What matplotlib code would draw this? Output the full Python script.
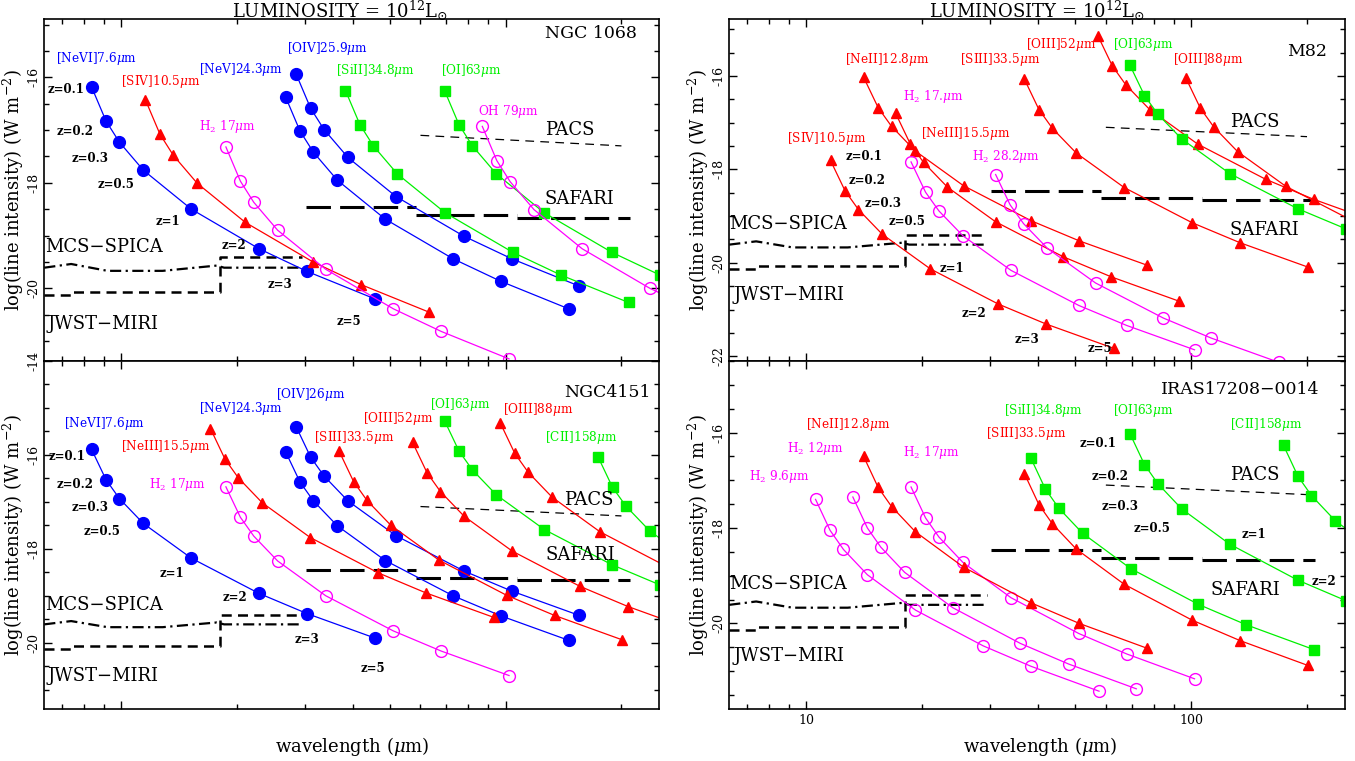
import matplotlib
matplotlib.use('Agg')
import matplotlib.pyplot as plt
from matplotlib.ticker import MultipleLocator, FixedLocator, NullFormatter, FuncFormatter

plt.rcParams['font.family'] = 'DejaVu Serif'
plt.rcParams['mathtext.fontset'] = 'dejavuserif'
plt.rcParams['axes.unicode_minus'] = False

# observed wavelengths (micron) of each line at z = 0.1, 0.2, 0.3, 0.5, 1, 2, 3, 5
x_nevi76 = [8.36, 9.12, 9.88, 11.4, 15.2, 22.8, 30.4, 45.6]
x_siv105 = [11.55, 12.6, 13.65, 15.75, 21.0, 31.5, 42.0, 63.0]
x_neii128 = [14.08, 15.36, 16.64, 19.2, 25.6, 38.4, 51.2, 76.8]
x_neiii155 = [17.05, 18.6, 20.15, 23.25, 31.0, 46.5, 62.0, 93.0]
x_h2_96 = [10.56, 11.52, 12.48, 14.4, 19.2, 28.8, 38.4, 57.6]
x_h2_12 = [13.2, 14.4, 15.6, 18.0, 24.0, 36.0, 48.0, 72.0]
x_h2_17 = [18.7, 20.4, 22.1, 25.5, 34.0, 51.0, 68.0, 102.0]
x_nev243 = [26.73, 29.16, 31.59, 36.45, 48.6, 72.9, 97.2, 145.8]
x_oiv259 = [28.49, 31.08, 33.67, 38.85, 51.8, 77.7, 103.6, 155.4]
x_h2_282 = [31.02, 33.84, 36.66, 42.3, 56.4, 84.6, 112.8, 169.2]
x_siii335 = [36.85, 40.2, 43.55, 50.25, 67.0, 100.5, 134.0, 201.0]
x_sii348 = [38.28, 41.76, 45.24, 52.2, 69.6, 104.4, 139.2, 208.8]
x_oiii52 = [57.2, 62.4, 67.6, 78.0, 104.0, 156.0, 208.0, 312.0]
x_oi63 = [69.3, 75.6, 81.9, 94.5, 126.0, 189.0, 252.0]
x_oh79 = [86.9, 94.8, 102.7, 118.5, 158.0, 237.0, 316.0]
x_oiii88 = [96.8, 105.6, 114.4, 132.0, 176.0, 264.0]
x_cii158 = [173.8, 189.6, 205.4, 237.0, 316.0]

# NGC 1068
n1068_nevi = [-16.18, -16.83, -17.23, -17.76, -18.50, -19.25, -19.68, -20.20]
n1068_siv = [-16.43, -17.08, -17.48, -18.01, -18.75, -19.50, -19.93, -20.45]
n1068_nev = [-16.37, -17.02, -17.42, -17.95, -18.69, -19.44, -19.87, -20.39]
n1068_oiv = [-15.94, -16.59, -16.99, -17.52, -18.26, -19.01, -19.44, -19.96]
n1068_sii = [-16.25, -16.90, -17.30, -17.83, -18.57, -19.32, -19.75, -20.27]
n1068_oi = [-16.25, -16.90, -17.30, -17.83, -18.57, -19.32, -19.75]
n1068_h2_17 = [-17.32, -17.97, -18.37, -18.90, -19.64, -20.39, -20.82, -21.34]
n1068_oh = [-16.93, -17.58, -17.98, -18.51, -19.25, -20.00, -20.43]

# NGC 4151
n4151_nevi = [-15.88, -16.53, -16.93, -17.46, -18.20, -18.95, -19.38, -19.90]
n4151_nev = [-15.93, -16.58, -16.98, -17.51, -18.25, -19.00, -19.43, -19.95]
n4151_oiv = [-15.40, -16.05, -16.45, -16.98, -17.72, -18.47, -18.90, -19.42]
n4151_neiii = [-15.44, -16.09, -16.49, -17.02, -17.76, -18.51, -18.94, -19.46]
n4151_siii = [-15.92, -16.57, -16.97, -17.50, -18.24, -18.99, -19.42, -19.94]
n4151_oiii52 = [-15.73, -16.38, -16.78, -17.31, -18.05, -18.80, -19.23, -19.75]
n4151_oiii88 = [-15.32, -15.97, -16.37, -16.90, -17.64, -18.39]
n4151_oi = [-15.27, -15.92, -16.32, -16.85, -17.59, -18.34, -18.77]
n4151_cii = [-16.04, -16.69, -17.09, -17.62, -18.36]
n4151_h2_17 = [-16.68, -17.33, -17.73, -18.26, -19.00, -19.75, -20.18, -20.70]

# M82
m82_neii = [-16.03, -16.68, -17.08, -17.61, -18.35, -19.10, -19.53, -20.05]
m82_neiii = [-16.80, -17.45, -17.85, -18.38, -19.12, -19.87, -20.30, -20.82]
m82_siv = [-17.81, -18.46, -18.86, -19.39, -20.13, -20.88, -21.31, -21.83]
m82_siii = [-16.07, -16.72, -17.12, -17.65, -18.39, -19.14, -19.57, -20.09]
m82_oiii52 = [-15.14, -15.79, -16.19, -16.72, -17.46, -18.21, -18.64, -19.16]
m82_oiii88 = [-16.04, -16.69, -17.09, -17.62, -18.36, -19.11]
m82_oi = [-15.77, -16.42, -16.82, -17.35, -18.09, -18.84, -19.27]
m82_h2_17 = [-17.84, -18.49, -18.89, -19.42, -20.16, -20.91, -21.34, -21.86]
m82_h2_28 = [-18.11, -18.76, -19.16, -19.69, -20.43, -21.18, -21.61, -22.13]

# IRAS17208-0014
iras_h2_96 = [-17.40, -18.05, -18.45, -18.98, -19.72, -20.47, -20.90, -21.42]
iras_h2_12 = [-17.35, -18.00, -18.40, -18.93, -19.67, -20.42, -20.85, -21.37]
iras_h2_17 = [-17.14, -17.79, -18.19, -18.72, -19.46, -20.21, -20.64, -21.16]
iras_neii = [-16.50, -17.15, -17.55, -18.08, -18.82, -19.57, -20.00, -20.52]
iras_siii = [-16.86, -17.51, -17.91, -18.44, -19.18, -19.93, -20.36, -20.88]
iras_sii = [-16.53, -17.18, -17.58, -18.11, -18.85, -19.60, -20.03, -20.55]
iras_oi = [-16.02, -16.67, -17.07, -17.60, -18.34, -19.09, -19.52]
iras_cii = [-16.27, -16.92, -17.32, -17.85, -18.59]

# instrument sensitivities
pacs_x = [60.0, 200.0]
pacs_y = [-17.10, -17.30]
safari_lo = [30.2, 58.3, 106.7]
safari_hi = [58.3, 106.7, 210.0]
safari_y = [-18.46, -18.62, -18.66]
jwst_x = [6.3, 7.5, 7.5, 18.0, 18.0, 29.5]
jwst_y = [-20.13, -20.13, -20.07, -20.07, -19.40, -19.40]
mcs_x = [6.3, 7.4, 9.2, 12.8, 17.7, 18.5, 29.5]
mcs_y = [-19.61, -19.54, -19.67, -19.67, -19.57, -19.61, -19.61]

BLUE = '#0000ff'
RED = '#ff0000'
GREEN = '#00f000'
MAG = '#ff00ff'

style = {
    'b': dict(color=BLUE, marker='o', ms=8.5, mfc=BLUE, mec=BLUE),
    'r': dict(color=RED, marker='^', ms=7.5, mfc=RED, mec=RED),
    'g': dict(color=GREEN, marker='s', ms=6.5, mfc=GREEN, mec=GREEN),
    'm': dict(color=MAG, marker='o', ms=8.5, mfc='none', mec=MAG, mew=1.0),
}
tcol = {'b': BLUE, 'r': RED, 'g': GREEN, 'm': MAG}

fig = plt.figure(figsize=(13.55, 7.61), dpi=100)
ax_tl = fig.add_axes([0.0327, 0.5256, 0.4539, 0.4490])
ax_bl = fig.add_axes([0.0327, 0.0679, 0.4539, 0.4577])
ax_tr = fig.add_axes([0.5382, 0.5256, 0.4544, 0.4490])
ax_br = fig.add_axes([0.5382, 0.0679, 0.4544, 0.4577])


def setup(ax, ylim, xlabels=False):
    ax.set_xscale('log')
    ax.set_xlim(6.3, 251)
    ax.set_ylim(*ylim)
    ax.xaxis.set_major_locator(FixedLocator([10, 100]))
    ax.xaxis.set_minor_locator(FixedLocator([7, 8, 9, 20, 30, 40, 50, 60, 70, 80, 90, 200]))
    ax.xaxis.set_minor_formatter(NullFormatter())
    if xlabels:
        ax.xaxis.set_major_formatter(FuncFormatter(lambda v, p: '%g' % v))
    else:
        ax.xaxis.set_major_formatter(NullFormatter())
    ax.yaxis.set_major_locator(MultipleLocator(2))
    ax.yaxis.set_minor_locator(MultipleLocator(0.5))
    ax.yaxis.set_major_formatter(FuncFormatter(lambda v, p: '%d' % round(v)))
    ax.tick_params(which='both', direction='in', top=True, right=True, width=1.0, labelsize=9)
    ax.tick_params(which='major', length=5.5)
    ax.tick_params(which='minor', length=3.5)
    ax.tick_params(axis='y', labelrotation=90, pad=3)
    for t in ax.get_yticklabels():
        t.set_va('center')
    for s in ax.spines.values():
        s.set_linewidth(1.2)
    ax.set_ylabel(r'log(line intensity) (W m$^{-2}$)', fontsize=13)
    ax.yaxis.set_label_coords(-0.029, 0.5)


def instruments(ax):
    ax.plot(pacs_x, pacs_y, color='k', lw=0.9, ls=(0, (7, 5)))
    for x0, x1, yv in zip(safari_lo, safari_hi, safari_y):
        ax.plot([x0, x1], [yv, yv], color='k', lw=2.2, ls=(0, (8, 3)))
    ax.plot(jwst_x, jwst_y, color='k', lw=1.8, ls=(0, (4, 2.5)))
    ax.plot(mcs_x, mcs_y, color='k', lw=1.6, ls=(0, (5, 2, 1, 2)))


def curve(ax, x, y, k):
    ax.plot(x, y, lw=0.9, **style[k])


def lab(ax, x, y, s, k, size=8.7):
    ax.text(x, y, s, color=tcol[k], fontsize=size, ha='left', va='center')


def big(ax, x, y, s, size=12.5):
    ax.text(x, y, s, color='k', fontsize=size, ha='left', va='center')


def zlab(ax, pos):
    for (x, y), s in zip(pos, ['z=0.1', 'z=0.2', 'z=0.3', 'z=0.5', 'z=1', 'z=2', 'z=3', 'z=5']):
        ax.text(x, y, s, fontsize=8.5, fontweight='bold', ha='left', va='center')


def inst_labels(ax, pacs, safari, mcs, jwst):
    big(ax, pacs[0], pacs[1], 'PACS', 13)
    big(ax, safari[0], safari[1], 'SAFARI', 13)
    big(ax, mcs[0], mcs[1], 'MCS\u2212SPICA', 13)
    big(ax, jwst[0], jwst[1], 'JWST\u2212MIRI', 13)


# ---------------- NGC 1068
ax = ax_tl
setup(ax, (-21.38, -14.9))
instruments(ax)
curve(ax, x_nevi76, n1068_nevi, 'b')
curve(ax, x_siv105, n1068_siv, 'r')
curve(ax, x_nev243, n1068_nev, 'b')
curve(ax, x_oiv259, n1068_oiv, 'b')
curve(ax, x_sii348, n1068_sii, 'g')
curve(ax, x_oi63, n1068_oi, 'g')
curve(ax, x_h2_17, n1068_h2_17, 'm')
curve(ax, x_oh79, n1068_oh, 'm')
lab(ax, 6.77, -15.65, r'[NeVI]7.6$\mu$m', 'b')
lab(ax, 10.0, -16.08, r'[SIV]10.5$\mu$m', 'r')
lab(ax, 15.9, -15.85, r'[NeV]24.3$\mu$m', 'b')
lab(ax, 27.0, -15.45, r'[OIV]25.9$\mu$m', 'b')
lab(ax, 36.2, -15.87, r'[SiII]34.8$\mu$m', 'g')
lab(ax, 67.7, -15.87, r'[OI]63$\mu$m', 'g')
lab(ax, 84.5, -16.64, r'OH 79$\mu$m', 'm')
lab(ax, 15.9, -16.94, r'H$_2$ 17$\mu$m', 'm')
big(ax, 126.5, -15.17, 'NGC 1068')
inst_labels(ax, (126.5, -16.99), (126.5, -18.30), (6.32, -19.21), (6.42, -20.68))
zlab(ax, [(6.42, -16.24), (6.77, -17.03), (7.41, -17.53), (8.69, -18.03),
          (12.3, -18.73), (18.2, -19.19), (24.0, -19.92), (36.3, -20.63)])

# ---------------- NGC 4151
ax = ax_bl
setup(ax, (-21.42, -14.0))
instruments(ax)
curve(ax, x_nevi76, n4151_nevi, 'b')
curve(ax, x_nev243, n4151_nev, 'b')
curve(ax, x_oiv259, n4151_oiv, 'b')
curve(ax, x_neiii155, n4151_neiii, 'r')
curve(ax, x_siii335, n4151_siii, 'r')
curve(ax, x_oiii52, n4151_oiii52, 'r')
curve(ax, x_oiii88, n4151_oiii88, 'r')
curve(ax, x_oi63, n4151_oi, 'g')
curve(ax, x_cii158, n4151_cii, 'g')
curve(ax, x_h2_17, n4151_h2_17, 'm')
lab(ax, 7.10, -15.34, r'[NeVI]7.6$\mu$m', 'b')
lab(ax, 15.9, -15.02, r'[NeV]24.3$\mu$m', 'b')
lab(ax, 25.2, -14.72, r'[OIV]26$\mu$m', 'b')
lab(ax, 10.0, -15.82, r'[NeIII]15.5$\mu$m', 'r')
lab(ax, 31.7, -15.63, r'[SIII]33.5$\mu$m', 'r')
lab(ax, 42.4, -15.22, r'[OIII]52$\mu$m', 'r')
lab(ax, 63.4, -14.92, r'[OI]63$\mu$m', 'g')
lab(ax, 98.2, -15.03, r'[OIII]88$\mu$m', 'r')
lab(ax, 126.8, -15.63, r'[CII]158$\mu$m', 'g')
lab(ax, 11.8, -16.63, r'H$_2$ 17$\mu$m', 'm')
big(ax, 142, -14.68, 'NGC4151')
inst_labels(ax, (142, -16.97), (126.8, -18.13), (6.32, -19.19), (6.42, -20.70))
zlab(ax, [(6.46, -16.03), (6.77, -16.63), (7.41, -17.13), (7.95, -17.64),
          (12.6, -18.52), (18.3, -19.04), (28.3, -19.94), (41.8, -20.54)])

# ---------------- M82
ax = ax_tr
setup(ax, (-22.1, -14.79))
instruments(ax)
curve(ax, x_neii128, m82_neii, 'r')
curve(ax, x_neiii155, m82_neiii, 'r')
curve(ax, x_siv105, m82_siv, 'r')
curve(ax, x_siii335, m82_siii, 'r')
curve(ax, x_oiii52, m82_oiii52, 'r')
curve(ax, x_oiii88, m82_oiii88, 'r')
curve(ax, x_oi63, m82_oi, 'g')
curve(ax, x_h2_17, m82_h2_17, 'm')
curve(ax, x_h2_282, m82_h2_28, 'm')
lab(ax, 12.6, -15.64, r'[NeII]12.8$\mu$m', 'r')
lab(ax, 17.8, -16.44, r'H$_2$ 17.$\mu$m', 'm')
lab(ax, 8.9, -17.34, r'[SIV]10.5$\mu$m', 'r')
lab(ax, 19.9, -17.23, r'[NeIII]15.5$\mu$m', 'r')
lab(ax, 27.0, -17.73, r'H$_2$ 28.2$\mu$m', 'm')
lab(ax, 25.1, -15.66, r'[SIII]33.5$\mu$m', 'r')
lab(ax, 37.1, -15.32, r'[OIII]52$\mu$m', 'r')
lab(ax, 62.8, -15.32, r'[OI]63$\mu$m', 'g')
lab(ax, 89.6, -15.64, r'[OIII]88$\mu$m', 'r')
big(ax, 177, -15.48, 'M82')
inst_labels(ax, (126, -16.98), (126, -19.30), (6.30, -19.17), (6.45, -20.68))
zlab(ax, [(12.6, -17.73), (12.9, -18.23), (14.2, -18.73), (16.3, -19.12),
          (22.2, -20.12), (25.3, -21.09), (34.8, -21.64), (53.8, -21.84)])

# ---------------- IRAS17208-0014
ax = ax_br
setup(ax, (-21.8, -14.5), xlabels=True)
instruments(ax)
curve(ax, x_h2_96, iras_h2_96, 'm')
curve(ax, x_h2_12, iras_h2_12, 'm')
curve(ax, x_h2_17, iras_h2_17, 'm')
curve(ax, x_neii128, iras_neii, 'r')
curve(ax, x_siii335, iras_siii, 'r')
curve(ax, x_sii348, iras_sii, 'g')
curve(ax, x_oi63, iras_oi, 'g')
curve(ax, x_cii158, iras_cii, 'g')
lab(ax, 10.0, -15.82, r'[NeII]12.8$\mu$m', 'r')
lab(ax, 8.9, -16.33, r'H$_2$ 12$\mu$m', 'm')
lab(ax, 7.1, -16.93, r'H$_2$ 9.6$\mu$m', 'm')
lab(ax, 17.8, -16.42, r'H$_2$ 17$\mu$m', 'm')
lab(ax, 29.3, -16.02, r'[SIII]33.5$\mu$m', 'r')
lab(ax, 32.7, -15.54, r'[SiII]34.8$\mu$m', 'g')
lab(ax, 62.8, -15.54, r'[OI]63$\mu$m', 'g')
lab(ax, 126, -15.82, r'[CII]158$\mu$m', 'g')
big(ax, 83.5, -15.10, 'IRAS17208\u22120014')
inst_labels(ax, (126, -16.88), (112, -19.29), (6.30, -19.17), (6.45, -20.69))
zlab(ax, [(51.4, -16.23), (55.1, -16.93), (58.5, -17.54), (71.0, -18.02),
          (135, -18.14), (205, -19.13)])

# titles and x labels
for xc in (340 / 1355, 1037 / 1355):
    fig.text(xc, 1 - 11 / 761, r'LUMINOSITY = 10$^{12}$L$_{\odot}$', fontsize=13,
             ha='center', va='center')
for xc in (352 / 1355, 1040 / 1355):
    fig.text(xc, 1 - 746 / 761, r'wavelength ($\mu$m)', fontsize=13, ha='center', va='center')

fig.savefig('out.png', dpi=100)
